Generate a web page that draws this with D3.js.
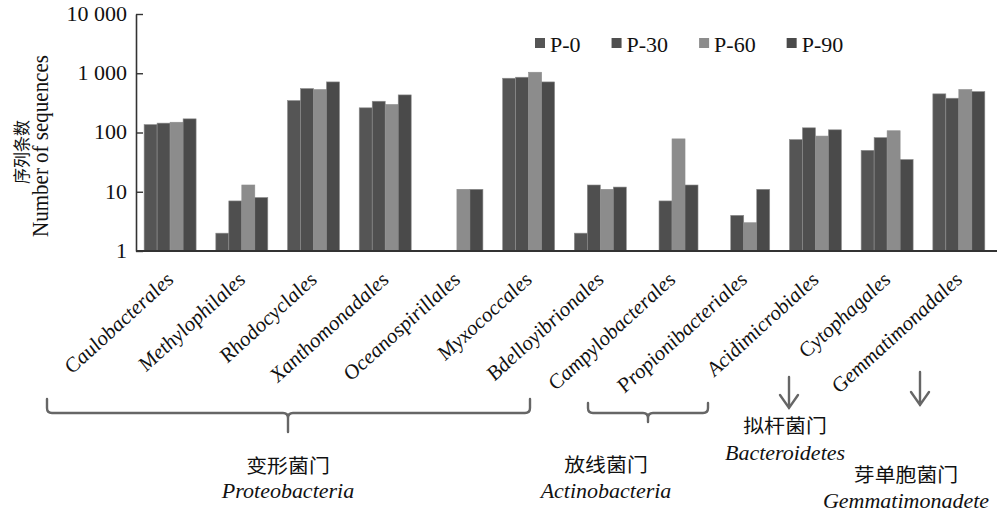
<!DOCTYPE html>
<html>
<head>
<meta charset="utf-8">
<script src="https://cdn.jsdelivr.net/npm/d3@7/dist/d3.min.js"></script>
<style>
  html, body { margin: 0; padding: 0; background: #ffffff; }
  svg { display: block; }
  text { font-family: "Liberation Serif", "Noto Sans CJK SC", serif; fill: #111; }
  .zh { font-family: "Noto Sans CJK SC", sans-serif; }
</style>
</head>
<body>
<svg id="chart" width="997" height="512"></svg>
<script>
// Orders (x categories)
const categories = [
  "Caulobacterales", "Methylophilales", "Rhodocyclales", "Xanthomonadales",
  "Oceanospirillales", "Myxococcales", "Bdelloyibrionales", "Campylobacterales",
  "Propionibacteriales", "Acidimicrobiales", "Cytophagales", "Gemmatimonadales"
];

// Sampling groups
const seriesNames = ["P-0", "P-30", "P-60", "P-90"];
const seriesColors = ["#555555", "#4f4f4f", "#8c8c8c", "#4a4a4a"];

// Number of sequences per order (null = not detected)
const p0  = [136,   2, 346, 261, null,  824,  2, null, null,  76,  50, 449];
const p30 = [144,   7, 552, 337, null,  857, 13,    7,    4, 120,  82, 379];
const p60 = [149,  13, 531, 297,   11, 1040, 11,   78,    3,  87, 107, 531];
const p90 = [170,   8, 714, 431,   11,  714, 12,   13,   11, 111,  35, 491];
const seriesValues = [p0, p30, p60, p90];

// Y axis ticks
const tickValues = [1, 10, 100, 1000, 10000];
const tickLabels = ["1", "10", "100", "1 000", "10 000"];

// Phylum annotations
const phylumZh = ["变形菌门", "放线菌门", "拟杆菌门", "芽单胞菌门"];
const phylumEn = ["Proteobacteria", "Actinobacteria", "Bacteroidetes", "Gemmatimonadete"];

// Type is set slightly wide
const sx = 1.1;

const svg = d3.select("#chart");

const plot = { left: 136, right: 997, top: 14, bottom: 251 };

const x = d3.scaleBand()
  .domain(categories)
  .range([plot.left, plot.right])
  .paddingInner(0.275)
  .paddingOuter(0.1415)
  .align(0.4);

const xSeries = d3.scaleBand()
  .domain(seriesNames)
  .range([0, x.bandwidth()])
  .padding(0);

const y = d3.scaleLog()
  .domain([1, 10000])
  .range([plot.bottom, plot.top]);

const color = d3.scaleOrdinal().domain(seriesNames).range(seriesColors);

// Bars
const rows = [];
categories.forEach((c, i) => {
  seriesNames.forEach((s, j) => {
    const v = seriesValues[j][i];
    if (v != null) rows.push({ cat: c, series: s, value: v });
  });
});

svg.append("g")
  .selectAll("rect")
  .data(rows)
  .join("rect")
  .attr("x", d => x(d.cat) + xSeries(d.series))
  .attr("y", d => y(d.value))
  .attr("width", xSeries.bandwidth())
  .attr("height", d => y(1) - y(d.value))
  .attr("fill", d => color(d.series))
  .attr("stroke", "#8e8e8e")
  .attr("stroke-width", 0.6);

// Y axis with inward ticks
const yAxis = d3.axisLeft(y)
  .tickValues(tickValues)
  .tickFormat((d, i) => tickLabels[i])
  .tickSizeInner(-7)
  .tickSizeOuter(0)
  .tickPadding(9);

const gy = svg.append("g")
  .attr("transform", `translate(${plot.left},0)`)
  .call(yAxis);
gy.select(".domain").attr("stroke", "#333").attr("stroke-width", 1.6);
gy.selectAll(".tick line").attr("stroke", "#333").attr("stroke-width", 1.4);
gy.selectAll(".tick text")
  .attr("fill", "#111")
  .attr("x", -9 / sx)
  .attr("transform", `scale(${sx},1)`)
  .style("font-family", "'Liberation Serif', serif")
  .style("font-size", "20px");

// X baseline
svg.append("line")
  .attr("x1", plot.left).attr("x2", plot.right)
  .attr("y1", y(1)).attr("y2", y(1))
  .attr("stroke", "#333").attr("stroke-width", 2);

// Rotated category labels
svg.append("g")
  .selectAll("text")
  .data(categories)
  .join("text")
  .attr("transform", d => `translate(${x(d) + x.bandwidth() / 2 + 5},${plot.bottom + 30}) scale(${sx},1) rotate(-45)`)
  .attr("text-anchor", "end")
  .style("font-style", "italic")
  .style("font-size", "20px")
  .text(d => d);

// Y axis title
svg.append("text")
  .attr("class", "zh")
  .attr("transform", `translate(28,152) scale(${sx},1) rotate(-90)`)
  .attr("text-anchor", "middle")
  .style("font-size", "16px")
  .text("序列条数");
svg.append("text")
  .attr("transform", `translate(48,146) scale(${sx},1) rotate(-90)`)
  .attr("text-anchor", "middle")
  .style("font-size", "21px")
  .text("Number of sequences");

// Legend
const legend = svg.append("g");
let lx = 535;
seriesNames.forEach(s => {
  legend.append("rect")
    .attr("x", lx).attr("y", 38)
    .attr("width", 10).attr("height", 10)
    .attr("fill", color(s));
  const t = legend.append("text")
    .attr("transform", `translate(${lx + 15},52) scale(${sx},1)`)
    .style("font-size", "20px")
    .text(s);
  lx += 15 + t.node().getComputedTextLength() * sx + 31;
});

// Phylum brackets and arrows
const ann = svg.append("g")
  .attr("fill", "none")
  .attr("stroke", "#666")
  .attr("stroke-width", 2.4)
  .attr("stroke-linecap", "round");

function bracket(x1, x2, xc, yTop, yH, yB) {
  const r = 5;
  return `M${x1},${yTop} V${yH - r} Q${x1},${yH} ${x1 + r},${yH} H${xc - r} ` +
         `Q${xc},${yH} ${xc},${yH + r} V${yB} M${xc},${yH + r} Q${xc},${yH} ${xc + r},${yH} ` +
         `H${x2 - r} Q${x2},${yH} ${x2},${yH - r} V${yTop}`;
}
ann.append("path").attr("d", bracket(47, 530, 288, 399, 413, 432));
ann.append("path").attr("d", bracket(588, 708, 648, 403, 413, 422));

function arrow(ax, y1, y2) {
  return `M${ax},${y1} V${y2} M${ax - 9},${y2 - 13} L${ax},${y2} L${ax + 9},${y2 - 13}`;
}
ann.append("path").attr("d", arrow(789, 377, 408));
ann.append("path").attr("d", arrow(920, 372, 405));

// Phylum names
const phylumPos = [
  { cx: 288, yZh: 473, yEn: 498 },
  { cx: 606, yZh: 472, yEn: 498 },
  { cx: 785, yZh: 433, yEn: 460 },
  { cx: 906, yZh: 482, yEn: 508 }
];
phylumPos.forEach((p, i) => {
  svg.append("text")
    .attr("class", "zh")
    .attr("transform", `translate(${p.cx},${p.yZh}) scale(${sx},1)`)
    .attr("text-anchor", "middle")
    .style("font-size", "19px")
    .text(phylumZh[i]);
  svg.append("text")
    .attr("transform", `translate(${p.cx},${p.yEn}) scale(${sx},1)`)
    .attr("text-anchor", "middle")
    .style("font-style", "italic")
    .style("font-size", "20px")
    .text(phylumEn[i]);
});
</script>
</body>
</html>
